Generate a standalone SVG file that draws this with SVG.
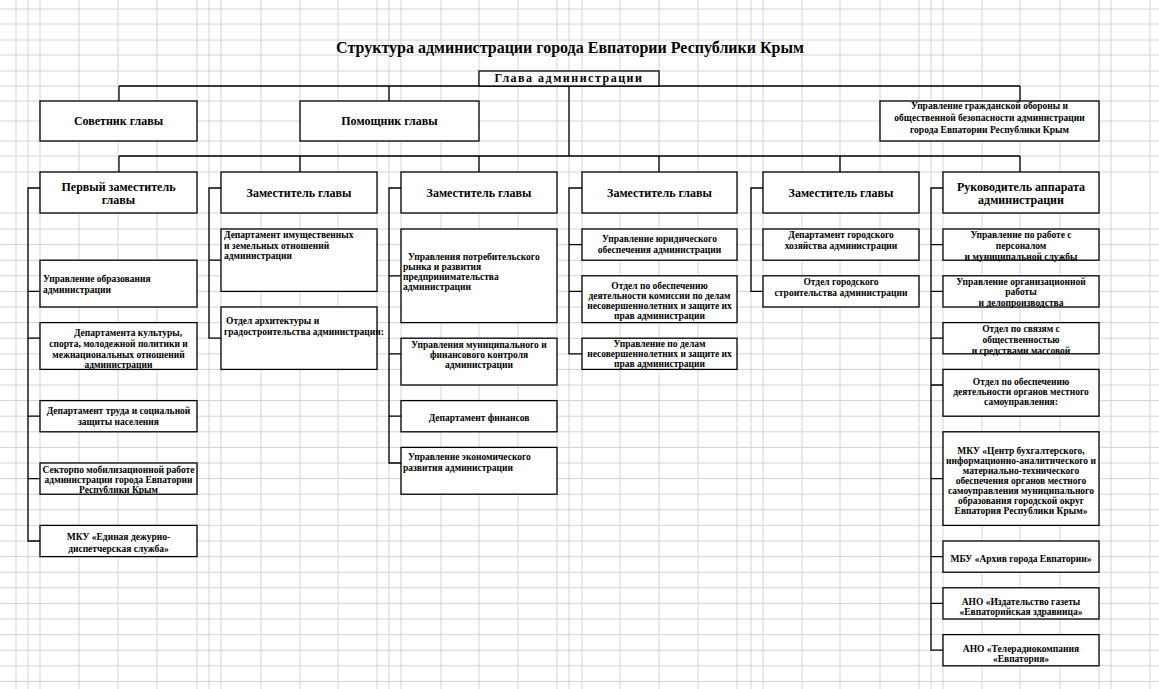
<svg xmlns="http://www.w3.org/2000/svg" width="1159" height="689" viewBox="0 0 1159 689">
<style>
.grid{stroke:#d4d4d4;stroke-width:1;fill:none}
.box{fill:#fff;stroke:#000;stroke-width:1.3}
.c{stroke:#000;stroke-width:1.3;fill:none}
text{font-family:"Liberation Serif","Times New Roman",serif;font-weight:bold;fill:#000}
.t{font-size:9.5px}
.m{text-anchor:middle}
.h{font-size:12px;text-anchor:middle}
.title{font-size:16px;text-anchor:middle}
</style>
<rect width="1159" height="689" fill="#fff"/>
<g id="grid">
<path class="grid" d="M16 0V689M28 0V689M40 0V689M79 0V689M118 0V689M157 0V689M197 0V689M209 0V689M221 0V689M261 0V689M300 0V689M338 0V689M377 0V689M389 0V689M401 0V689M441 0V689M479 0V689M518 0V689M557 0V689M569 0V689M582 0V689M620 0V689M659 0V689M698 0V689M737 0V689M751 0V689M763 0V689M802 0V689M840 0V689M880 0V689M919 0V689M931 0V689M943 0V689M982 0V689M1020 0V689M1060 0V689M1099 0V689M1111 0V689M1150 0V689"/>
<path class="grid" d="M0 9H1159M0 24H1159M0 40H1159M0 55H1159M0 71H1159M0 86H1159M0 101H1159M0 121H1159M0 141H1159M0 156H1159M0 172H1159M0 213H1159M0 229H1159M0 244.6H1159M0 260.2H1159M0 275.8H1159M0 291.4H1159M0 307H1159M0 322.6H1159M0 338.2H1159M0 353.8H1159M0 369.4H1159M0 385H1159M0 400.6H1159M0 416.2H1159M0 431.8H1159M0 447.4H1159M0 463H1159M0 478.6H1159M0 494.2H1159M0 509.8H1159M0 525.4H1159M0 541H1159M0 556.6H1159M0 572.2H1159M0 587.8H1159M0 603.4H1159M0 619H1159M0 634.6H1159M0 650.2H1159M0 665.8H1159M0 681.4H1159"/>
</g>
<text class="title" x="570" y="53">Структура администрации города Евпатории Республики Крым</text>
<g id="connectors">
<path class="c" d="M119 86H1020M119 86V101M389 86V101M1020 86V101M569 86V156M119 156H1020M119 156V172M300 156V172M479 156V172M659 156V172M840 156V172M1020 156V172"/>
<path class="c" d="M40 188H28V541H40M28 291.4H40M28 338.2H40M28 416.2H40M28 478.6H40"/>
<path class="c" d="M221 188H209V338.2H221M209 260.2H221"/>
<path class="c" d="M401 188H389V463H401M389 275.8H401M389 353.8H401M389 416.2H401"/>
<path class="c" d="M582 188H569V353.8H582M569 244.6H582M569 291.4H582"/>
<path class="c" d="M763 188H751V291.4H763"/>
<path class="c" d="M943 188H931V650.2H943M931 244.6H943M931 291.4H943M931 338.2H943M931 385H943M931 478.6H943M931 556.6H943M931 603.4H943"/>
</g>
<g id="glava"><rect class="box" x="479" y="71" width="180" height="15"/><text class="m" x="569" y="82" font-size="12px" letter-spacing="1.5">Глава администрации</text></g>
<g id="sovetnik"><rect class="box" x="40" y="101" width="157" height="40"/><text class="h" x="118.5" y="125" font-size="11.5px">Советник главы</text></g>
<g id="pomoshnik"><rect class="box" x="300" y="101" width="179" height="40"/><text class="h" x="389.5" y="125" font-size="11.5px">Помощник главы</text></g>
<g id="go"><rect class="box" x="880" y="101" width="219" height="40"/><text class="t m" x="989.5" y="109">Управление гражданской обороны и</text><text class="t m" x="989.5" y="121">общественной безопасности администрации</text><text class="t m" x="989.5" y="133">города Евпатории Республики Крым</text></g>

<g id="col1-head"><rect class="box" x="40" y="172" width="157" height="41"/><text class="h" x="118.5" y="191">Первый заместитель</text><text class="h" x="118.5" y="204">главы</text></g>
<g id="c1-1"><rect class="box" x="40" y="260.2" width="157" height="46.8"/><text class="t" x="43" y="282">Управление образования</text><text class="t" x="43" y="293">администрации</text></g>
<g id="c1-2"><rect class="box" x="40" y="322.6" width="157" height="46.8"/><text class="t m" x="128" y="336">Департамента культуры,</text><text class="t m" x="118.5" y="347">спорта, молодежной политики и</text><text class="t m" x="118.5" y="358">межнациональных отношений</text><text class="t m" x="118.5" y="368">администрации</text></g>
<g id="c1-3"><rect class="box" x="40" y="400.6" width="157" height="31.2"/><text class="t m" x="118.5" y="414">Департамент труда и социальной</text><text class="t m" x="118.5" y="425">защиты населения</text></g>
<g id="c1-4"><rect class="box" x="40" y="463" width="157" height="31.2"/><text class="t m" x="118.5" y="473">Секторпо мобилизационной работе</text><text class="t m" x="118.5" y="483">администрации города Евпатории</text><text class="t m" x="118.5" y="493">Республики Крым</text></g>
<g id="c1-5"><rect class="box" x="40" y="525.4" width="157" height="31.2"/><text class="t m" x="118.5" y="540">МКУ «Единая дежурно-</text><text class="t m" x="118.5" y="552">диспетчерская служба»</text></g>

<g id="col2-head"><rect class="box" x="221" y="172" width="156" height="41"/><text class="h" x="299" y="197">Заместитель главы</text></g>
<g id="c2-1"><rect class="box" x="221" y="229" width="156" height="62.4"/><text class="t" x="224" y="238"> Департамент имущественных</text><text class="t" x="224" y="249">и земельных отношений</text><text class="t" x="224" y="259">администрации</text></g>
<g id="c2-2"><rect class="box" x="221" y="307" width="156" height="62.4"/><text class="t" x="226" y="324">Отдел архитектуры и</text><text class="t" x="224" y="335">градостроительства администрации:</text></g>

<g id="col3-head"><rect class="box" x="401" y="172" width="156" height="41"/><text class="h" x="479" y="197">Заместитель главы</text></g>
<g id="c3-1"><rect class="box" x="401" y="229" width="156" height="93.6"/><text class="t" x="408" y="260">Управления потребительского</text><text class="t" x="403" y="270">рынка и развития</text><text class="t" x="403" y="280">предпринимательства</text><text class="t" x="403" y="290">администрации</text></g>
<g id="c3-2"><rect class="box" x="401" y="338.2" width="156" height="46.8"/><text class="t m" x="479" y="348">Управления муниципального и</text><text class="t m" x="479" y="358">финансового контроля</text><text class="t m" x="479" y="368">администрации</text></g>
<g id="c3-3"><rect class="box" x="401" y="400.6" width="156" height="31.2"/><text class="t m" x="479" y="421">Департамент финансов</text></g>
<g id="c3-4"><rect class="box" x="401" y="447.4" width="156" height="46.8"/><text class="t" x="408" y="460">Управление экономического</text><text class="t" x="403" y="471">развития администрации</text></g>

<g id="col4-head"><rect class="box" x="582" y="172" width="155" height="41"/><text class="h" x="659.5" y="197">Заместитель главы</text></g>
<g id="c4-1"><rect class="box" x="582" y="229" width="155" height="31.2"/><text class="t m" x="659.5" y="242">Управление юридического</text><text class="t m" x="659.5" y="253">обеспечения администрации</text></g>
<g id="c4-2"><rect class="box" x="582" y="275.8" width="155" height="46.8"/><text class="t m" x="659.5" y="289">Отдел по обеспечению</text><text class="t m" x="659.5" y="299">деятельности комиссии по делам</text><text class="t m" x="659.5" y="309">несовершеннолетних и защите их</text><text class="t m" x="659.5" y="319">прав администрации</text></g>
<g id="c4-3"><rect class="box" x="582" y="338.2" width="155" height="31.2"/><text class="t m" x="659.5" y="347">Управление по делам</text><text class="t m" x="659.5" y="357">несовершеннолетних и защите их</text><text class="t m" x="659.5" y="367">прав администрации</text></g>

<g id="col5-head"><rect class="box" x="763" y="172" width="156" height="41"/><text class="h" x="841" y="197">Заместитель главы</text></g>
<g id="c5-1"><rect class="box" x="763" y="229" width="156" height="31.2"/><text class="t m" x="841" y="238">Департамент городского</text><text class="t m" x="841" y="249">хозяйства администрации</text></g>
<g id="c5-2"><rect class="box" x="763" y="275.8" width="156" height="31.2"/><text class="t m" x="841" y="285">Отдел городского</text><text class="t m" x="841" y="296">строительства администрации</text></g>

<g id="col6-head"><rect class="box" x="943" y="172" width="156" height="41"/><text class="h" x="1021" y="191">Руководитель аппарата</text><text class="h" x="1021" y="204">администрации</text></g>
<g id="c6-1"><rect class="box" x="943" y="229" width="156" height="31.2"/><text class="t m" x="1021" y="238">Управление по работе с</text><text class="t m" x="1021" y="249">персоналом</text><text class="t m" x="1021" y="259.5">и муниципальной службы</text></g>
<g id="c6-2"><rect class="box" x="943" y="275.8" width="156" height="31.2"/><text class="t m" x="1021" y="285">Управление организационной</text><text class="t m" x="1021" y="295">работы</text><text class="t m" x="1021" y="306">и делопроизводства</text></g>
<g id="c6-3"><rect class="box" x="943" y="322.6" width="156" height="31.2"/><text class="t m" x="1021" y="332">Отдел по связям с</text><text class="t m" x="1021" y="343">общественностью</text><text class="t m" x="1021" y="353.5">и средствами массовой</text></g>
<g id="c6-4"><rect class="box" x="943" y="369.4" width="156" height="46.8"/><text class="t m" x="1021" y="385">Отдел по обеспечению</text><text class="t m" x="1021" y="395">деятельности органов местного</text><text class="t m" x="1021" y="405">самоуправления:</text></g>
<g id="c6-5"><rect class="box" x="943" y="431.8" width="156" height="93.6"/><text class="t m" x="1021" y="454">МКУ «Центр бухгалтерского,</text><text class="t m" x="1021" y="464">информационно-аналитического и</text><text class="t m" x="1021" y="474">материально-технического</text><text class="t m" x="1021" y="484">обеспечения органов местного</text><text class="t m" x="1021" y="494">самоуправления муниципального</text><text class="t m" x="1021" y="504">образования городской округ</text><text class="t m" x="1021" y="514">Евпатория Республики Крым»</text></g>
<g id="c6-6"><rect class="box" x="943" y="541" width="156" height="31.2"/><text class="t m" x="1021" y="562">МБУ «Архив города Евпатории»</text></g>
<g id="c6-7"><rect class="box" x="943" y="587.8" width="156" height="31.2"/><text class="t m" x="1021" y="605">АНО «Издательство газеты</text><text class="t m" x="1021" y="615">«Евпаторийская здравница»</text></g>
<g id="c6-8"><rect class="box" x="943" y="634.6" width="156" height="31.2"/><text class="t m" x="1021" y="662">«Евпатория»</text><text class="t m" x="1021" y="652">АНО «Телерадиокомпания</text></g>
</svg>
